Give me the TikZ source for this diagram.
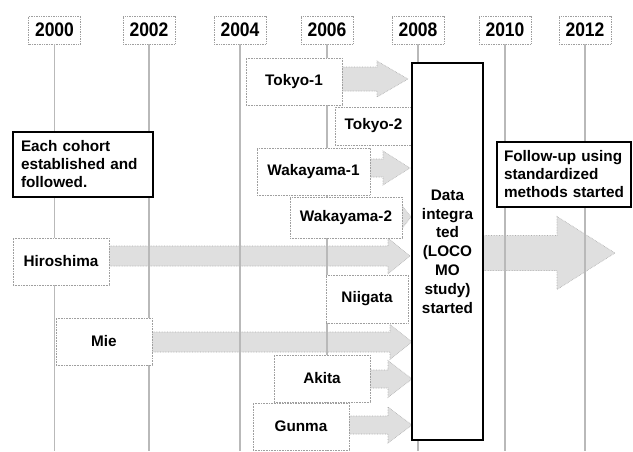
\documentclass[tikz,border=0pt]{standalone}
\usepackage{fontspec}
\usepackage{graphicx}
\setmainfont{Liberation Sans}
\newcommand\blkarr[6]{%
  \filldraw[arrow body] (#1,{#4-#5}) -- (#2,{#4-#5}) -- (#2,{#4-#6}) -- (#3,#4)
    -- (#2,{#4+#6}) -- (#2,{#4+#5}) -- (#1,{#4+#5}) -- cycle;}
\begin{document}
\begin{tikzpicture}[x=1pt,y=-1pt,
  yearbox/.style={draw=gray!75, densely dotted, line width=0.7pt, fill=white,
    minimum width=52pt, minimum height=28pt, inner sep=0pt,
    font=\fontsize{17.5}{20}\selectfont\bfseries},
  cbox/.style={draw=gray!75, densely dotted, line width=0.6pt, fill=white,
    inner sep=0pt, font=\fontsize{15.3}{17.5}\selectfont\bfseries},
  thickbox/.style={draw=black, line width=2.2pt, fill=white, inner sep=0pt,
    font=\fontsize{15.3}{18}\selectfont\bfseries},
  tline/.style={draw=gray!55, line width=1.8pt},
  arrow body/.style={fill=gray!25, draw=gray!65, densely dotted, line width=0.6pt}]
\useasboundingbox (0,0) rectangle (633,451);
\fill[white] (0,0) rectangle (633,451);

% year labels
\foreach \yr/\xx in {2000/54.5,2002/149,2004/240,2006/327,2008/418,2010/505,2012/585}{
  \node[yearbox] (y\yr) at (\xx,30) {\scalebox{1}[1.12]{\yr}};
  \coordinate (b\yr) at (\xx,451);
}

% block arrows (behind everything)
\blkarr{335}{377}{408}{79}{12}{18}
\blkarr{365}{383}{410}{168}{9}{17}
\blkarr{395}{400}{411}{217}{8}{14}
\blkarr{105}{388}{410}{256}{10}{18}
\blkarr{148}{390}{412}{342}{10}{17.5}
\blkarr{365}{388}{412}{379}{9}{18.5}
\blkarr{345}{388}{412}{425}{9}{18}
\blkarr{480}{557}{615}{253}{17.5}{36.5}

% time lines
\foreach \yr in {2000,2002,2004,2006,2008,2010,2012}{
  \draw[tline] (y\yr.south) -- (b\yr);
}

% cohort boxes
\node[cbox, minimum width=96pt, minimum height=47pt] (tokyo1) at (294,81.5) {Tokyo-1};
\node[cbox, minimum width=77pt, minimum height=38pt] (tokyo2) at (373.5,126) {Tokyo-2};
\node[cbox, minimum width=113pt, minimum height=47pt] (waka1) at (313.5,171.5) {Wakayama-1};
\node[cbox, minimum width=112pt, minimum height=41pt] (waka2) at (346,217.5) {Wakayama-2};
\node[cbox, minimum width=96pt, minimum height=47pt] (hiro) at (61,261.5) {Hiroshima};
\node[cbox, minimum width=82pt, minimum height=48pt] (niigata) at (367,299) {Niigata};
\node[cbox, minimum width=96pt, minimum height=47pt] (mie) at (104,341.5) {Mie};
\node[cbox, minimum width=96pt, minimum height=47pt] (akita) at (322,378.5) {Akita};
\node[cbox, minimum width=96pt, minimum height=47pt] (gunma) at (301,426.5) {Gunma};

% note boxes
\node[thickbox, minimum width=140pt, minimum height=65pt, align=left,
  text width=124pt] (each) at (83,164.5)
  {Each cohort\\established and\\followed.};
\node[thickbox, minimum width=71pt, minimum height=377pt, align=center,
  font=\fontsize{15.3}{18.8}\selectfont\bfseries] (data) at (447.5,251.5)
  {Data\\integra\\ted\\(LOCO\\MO\\study)\\started};
\node[thickbox, minimum width=134pt, minimum height=65pt, align=left,
  text width=120pt] (follow) at (564,174.5)
  {Follow-up using\\standardized\\methods started};
\end{tikzpicture}
\end{document}
